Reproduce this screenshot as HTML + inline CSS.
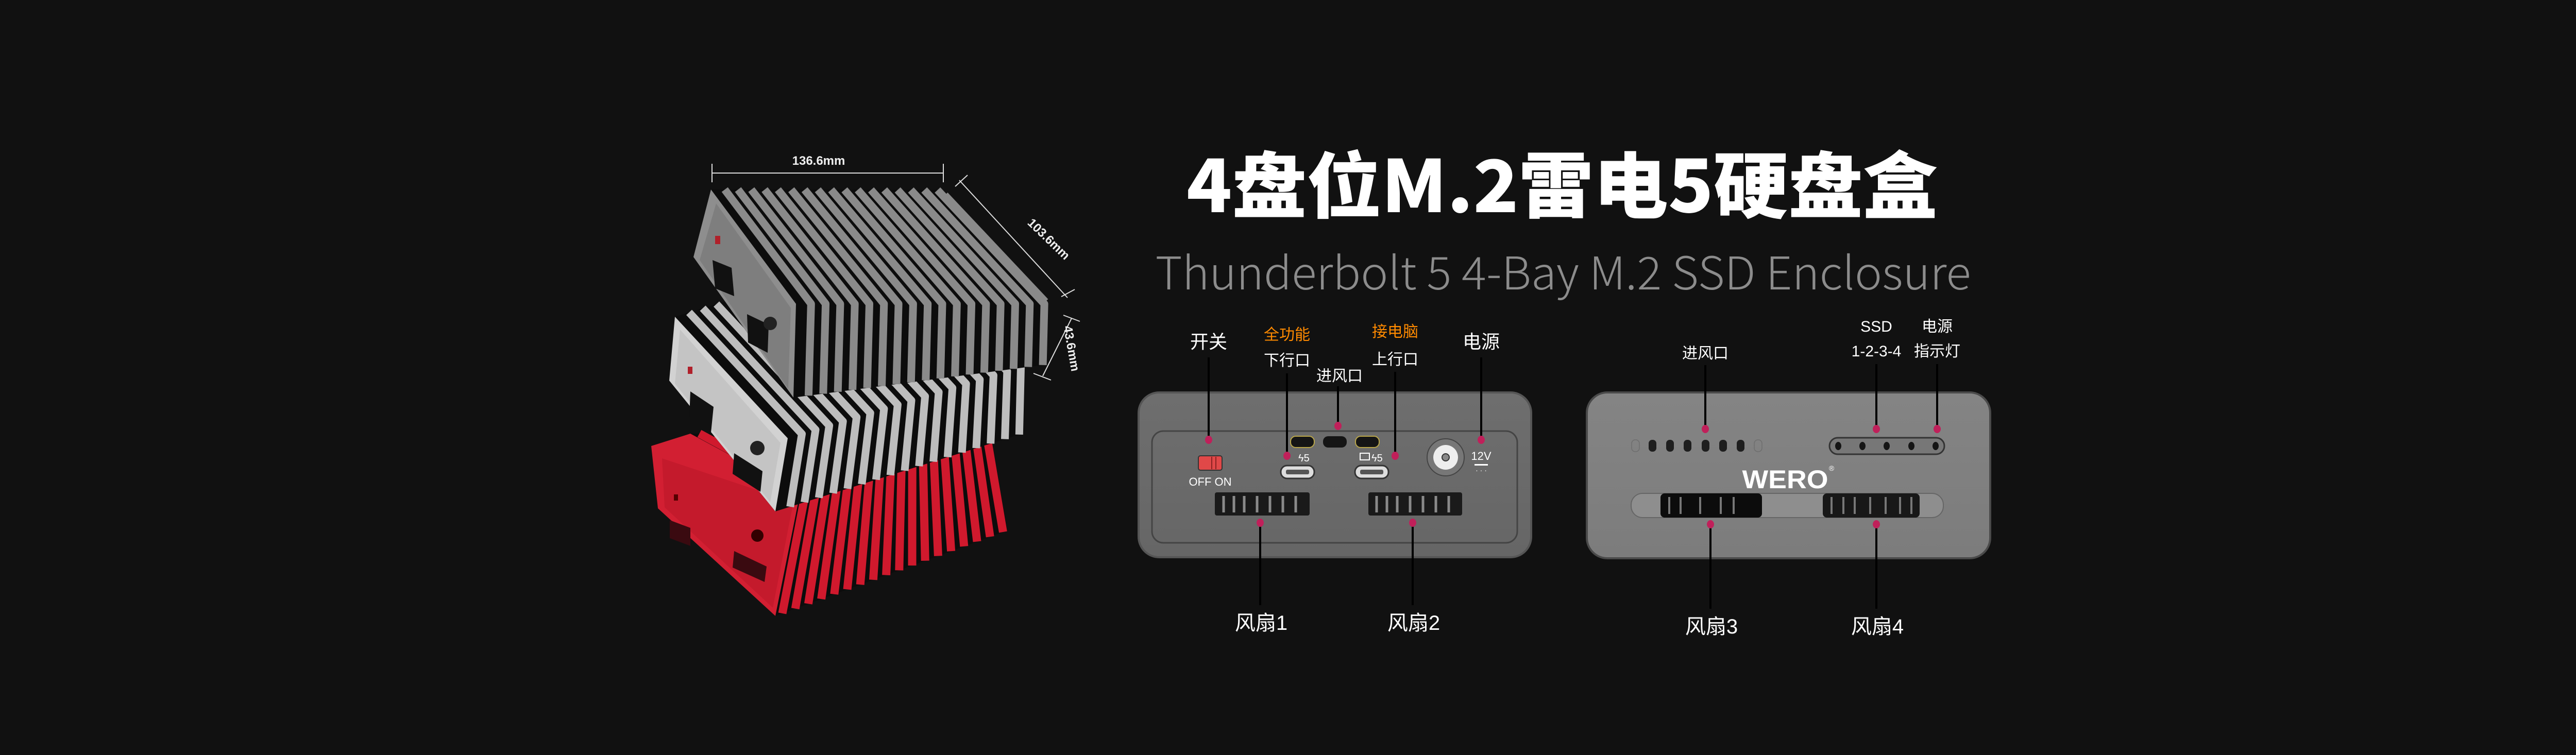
<!DOCTYPE html>
<html><head><meta charset="utf-8"><style>
html,body{margin:0;padding:0;background:#111111;}
svg{display:block;}
text{font-family:"Liberation Sans","Noto Sans CJK SC",sans-serif;}
.cj{font-family:"Noto Sans CJK SC","WenQuanYi Zen Hei",sans-serif;}
</style></head><body>
<svg id="s" width="5120" height="1466" viewBox="0 0 5120 1466" xmlns="http://www.w3.org/2000/svg">
<defs>
<linearGradient id="gL" x1="0" y1="0" x2="0" y2="1"><stop offset="0" stop-color="#6e6e6e"/><stop offset="1" stop-color="#666"/></linearGradient>
<linearGradient id="gR" x1="0" y1="0" x2="0" y2="1"><stop offset="0" stop-color="#848484"/><stop offset="1" stop-color="#7c7c7c"/></linearGradient>
</defs>
<rect width="5120" height="1466" fill="#111111"/>

<text x="3032" y="412" class="cj" font-size="140" font-weight="900" fill="#ffffff" text-anchor="middle" textLength="1458" lengthAdjust="spacingAndGlyphs">4盘位M.2雷电5硬盘盒</text>
<text x="3034" y="562" font-size="88" fill="#8c8c8c" text-anchor="middle" textLength="1583" lengthAdjust="spacingAndGlyphs" class="cj" font-weight="300">Thunderbolt 5 4-Bay M.2 SSD Enclosure</text>

<!-- red box -->
<polygon points="1264,866 1340,842 1922,839 1955,1030 1505,1196 1277,987" fill="#0c0c0c"/>
<polygon points="1264,866 1340,842 1553,957 1505,1196 1277,987" fill="#d21f32"/>
<polygon points="1285,890 1540,975 1500,1180 1290,985" fill="#c41a2c"/>
<g id="redfins" stroke="#d0192d" stroke-width="16"></g>
<polygon points="1300,1010 1340,1025 1340,1060 1300,1045" fill="#3a0a10"/>
<polygon points="1425,1070 1488,1100 1484,1130 1422,1102" fill="#3a0a10"/>
<circle cx="1470" cy="1040" r="12" fill="#300"/>
<rect x="1308" y="960" width="8" height="12" fill="#500"/>

<!-- middle box -->
<polygon points="1310,615 1768,475 1987,711 1984,842 1505,993 1299,739" fill="#0c0c0c"/>
<polygon points="1310,615 1529,851 1505,993 1299,739" fill="#d2d2d2"/>
<polygon points="1320,640 1515,860 1495,975 1310,745" fill="#c4c4c4"/>
<g id="midfins" stroke="#bdbdbd" stroke-width="15"></g>
<polygon points="1340,760 1385,790 1380,840 1338,810" fill="#111"/>
<polygon points="1425,880 1480,915 1476,955 1422,920" fill="#111"/>
<circle cx="1470" cy="870" r="14" fill="#222"/>
<rect x="1335" y="712" width="9" height="14" fill="#b0202a"/>

<!-- top box -->
<polygon points="1380,368 1825,369 2033,590 2030,708 1540,772 1346,499" fill="#0c0c0c"/>
<polygon points="1380,368 1545,590 1540,772 1346,499" fill="#8e8e8e"/>
<polygon points="1390,395 1535,598 1530,755 1358,505" fill="#7e7e7e"/>
<g id="topfins" stroke="#8a8a8a" stroke-width="15"></g>
<polygon points="1383,505 1420,520 1425,575 1388,560" fill="#111"/>
<polygon points="1450,610 1492,630 1490,685 1452,665" fill="#111"/>
<circle cx="1495" cy="628" r="13" fill="#222"/>
<rect x="1388" y="458" width="10" height="16" fill="#b0202a"/>
<line x1="1835" y1="378" x2="2030" y2="585" stroke="#8a8a8a" stroke-width="12"/>

<g stroke="#dddddd" stroke-width="2" fill="none">
<line x1="1382" y1="336" x2="1831" y2="336"/><line x1="1382" y1="318" x2="1382" y2="354"/><line x1="1831" y1="318" x2="1831" y2="354"/>
<line x1="1862" y1="350" x2="2072" y2="578"/><line x1="1854" y1="362" x2="1878" y2="340"/><line x1="2060" y1="576" x2="2086" y2="562"/>
<line x1="2080" y1="618" x2="2024" y2="730"/><line x1="2064" y1="612" x2="2096" y2="624"/><line x1="2006" y1="725" x2="2040" y2="738"/>
</g>
<text x="1589" y="320" font-size="24" font-weight="bold" fill="#eeeeee" text-anchor="middle">136.6mm</text>
<text x="0" y="0" font-size="24" font-weight="bold" fill="#eeeeee" text-anchor="middle" transform="translate(2030,470) rotate(44)">103.6mm</text>
<text x="0" y="0" font-size="24" font-weight="bold" fill="#eeeeee" text-anchor="middle" transform="translate(2072,678) rotate(80)">43.6mm</text>

<!-- Left panel -->
<rect x="2210" y="762" width="762" height="320" rx="40" fill="url(#gL)" stroke="#555" stroke-width="4"/>
<rect x="2236" y="837" width="709" height="217" rx="22" fill="none" stroke="#444" stroke-width="3"/>
<rect x="2326" y="885" width="46" height="28" rx="4" fill="#e04848" stroke="#333" stroke-width="2"/>
<line x1="2352" y1="887" x2="2352" y2="911" stroke="#822" stroke-width="2"/><line x1="2360" y1="887" x2="2360" y2="911" stroke="#822" stroke-width="2"/>
<text x="2349" y="943" font-size="22" fill="#ffffff" text-anchor="middle">OFF  ON</text>
<rect x="2505" y="847" width="46" height="22" rx="10" fill="#151515" stroke="#b9a64a" stroke-width="2"/>
<rect x="2568" y="847" width="46" height="22" rx="10" fill="#151515"/>
<rect x="2631" y="847" width="46" height="22" rx="10" fill="#151515" stroke="#b9a64a" stroke-width="2"/>
<rect x="2486" y="904" width="65" height="25" rx="12" fill="#ddd" stroke="#333" stroke-width="3"/>
<rect x="2496" y="912" width="45" height="9" rx="3" fill="#555"/>
<rect x="2630" y="904" width="65" height="25" rx="12" fill="#ddd" stroke="#333" stroke-width="3"/>
<rect x="2640" y="912" width="45" height="9" rx="3" fill="#555"/>
<text x="2520" y="896" font-size="20" fill="#fff">ϟ5</text>
<rect x="2640" y="880" width="18" height="13" fill="none" stroke="#fff" stroke-width="2"/>
<text x="2662" y="896" font-size="20" fill="#fff">ϟ5</text>
<circle cx="2806" cy="888" r="36" fill="#777" stroke="#444" stroke-width="2"/>
<circle cx="2806" cy="888" r="24" fill="#eee"/>
<circle cx="2806" cy="888" r="7" fill="#888" stroke="#333" stroke-width="2"/>
<text x="2875" y="893" font-size="22" fill="#fff" text-anchor="middle">12V</text>
<rect x="2862" y="901" width="26" height="3" fill="#fff"/>
<text x="2875" y="918" font-size="14" fill="#fff" text-anchor="middle">· · ·</text>
<rect x="2358" y="956" width="184" height="45" rx="4" fill="#1a1a1a"/>
<rect x="2656" y="956" width="182" height="45" rx="4" fill="#1a1a1a"/>
<g stroke="#8a8a8a" stroke-width="5">
<line x1="2375" y1="963" x2="2375" y2="995"/><line x1="2395" y1="963" x2="2395" y2="995"/><line x1="2415" y1="963" x2="2415" y2="995"/><line x1="2440" y1="963" x2="2440" y2="995"/><line x1="2465" y1="963" x2="2465" y2="995"/><line x1="2490" y1="963" x2="2490" y2="995"/><line x1="2515" y1="963" x2="2515" y2="995"/>
<line x1="2672" y1="963" x2="2672" y2="995"/><line x1="2692" y1="963" x2="2692" y2="995"/><line x1="2712" y1="963" x2="2712" y2="995"/><line x1="2737" y1="963" x2="2737" y2="995"/><line x1="2762" y1="963" x2="2762" y2="995"/><line x1="2787" y1="963" x2="2787" y2="995"/><line x1="2812" y1="963" x2="2812" y2="995"/>
</g>

<!-- Right panel -->
<rect x="3080" y="762" width="783" height="322" rx="40" fill="url(#gR)" stroke="#4a4a4a" stroke-width="4"/>
<g fill="#1e1e1e">
<rect x="3200" y="854" width="15" height="23" rx="7"/><rect x="3234" y="854" width="15" height="23" rx="7"/><rect x="3268" y="854" width="15" height="23" rx="7"/><rect x="3303" y="854" width="15" height="23" rx="7"/><rect x="3337" y="854" width="15" height="23" rx="7"/><rect x="3371" y="854" width="15" height="23" rx="7"/>
</g>
<rect x="3167" y="854" width="15" height="23" rx="7" fill="none" stroke="#6e6e6e" stroke-width="1.5"/>
<rect x="3405" y="854" width="15" height="23" rx="7" fill="none" stroke="#6e6e6e" stroke-width="1.5"/>
<rect x="3551" y="850" width="223" height="32" rx="16" fill="#777" stroke="#333" stroke-width="3"/>
<g fill="#151515"><ellipse cx="3568" cy="866" rx="6" ry="8"/><ellipse cx="3615" cy="866" rx="6" ry="8"/><ellipse cx="3662" cy="866" rx="6" ry="8"/><ellipse cx="3710" cy="866" rx="6" ry="8"/><ellipse cx="3757" cy="866" rx="6" ry="8"/></g>
<text x="3465" y="948" font-size="50" font-weight="bold" fill="#ffffff" text-anchor="middle" textLength="167" lengthAdjust="spacingAndGlyphs">WERO</text>
<text x="3555" y="914" font-size="14" fill="#fff" text-anchor="middle">®</text>
<rect x="3166" y="958" width="606" height="47" rx="22" fill="#8e8e8e" stroke="#666" stroke-width="2"/>
<rect x="3223" y="958" width="197" height="47" rx="8" fill="#0c0c0c"/>
<rect x="3538" y="958" width="188" height="47" rx="8" fill="#181818"/>
<g stroke="#777" stroke-width="4">
<line x1="3240" y1="965" x2="3240" y2="998"/><line x1="3262" y1="965" x2="3262" y2="998"/><line x1="3300" y1="965" x2="3300" y2="998"/><line x1="3340" y1="965" x2="3340" y2="998"/><line x1="3365" y1="965" x2="3365" y2="998"/>
<line x1="3555" y1="965" x2="3555" y2="998"/><line x1="3578" y1="965" x2="3578" y2="998"/><line x1="3600" y1="965" x2="3600" y2="998"/><line x1="3630" y1="965" x2="3630" y2="998"/><line x1="3660" y1="965" x2="3660" y2="998"/><line x1="3688" y1="965" x2="3688" y2="998"/><line x1="3710" y1="965" x2="3710" y2="998"/>
</g>

<g stroke="#000" stroke-width="4">
<line x1="2346" y1="694" x2="2346" y2="850"/>
<line x1="2498" y1="725" x2="2498" y2="882"/>
<line x1="2597" y1="750" x2="2597" y2="824"/>
<line x1="2708" y1="722" x2="2708" y2="882"/>
<line x1="2875" y1="694" x2="2875" y2="850"/>
<line x1="2446" y1="1018" x2="2446" y2="1175"/>
<line x1="2742" y1="1018" x2="2742" y2="1175"/>
<line x1="3310" y1="709" x2="3310" y2="830"/>
<line x1="3642" y1="707" x2="3642" y2="830"/>
<line x1="3760" y1="707" x2="3760" y2="830"/>
<line x1="3320" y1="1020" x2="3320" y2="1182"/>
<line x1="3642" y1="1020" x2="3642" y2="1182"/>
</g>
<g fill="#c0205a">
<ellipse cx="2346" cy="854" rx="7" ry="8"/>
<ellipse cx="2498" cy="885" rx="7" ry="8"/>
<ellipse cx="2597" cy="827" rx="7" ry="8"/>
<ellipse cx="2708" cy="885" rx="7" ry="8"/>
<ellipse cx="2875" cy="854" rx="7" ry="8"/>
<ellipse cx="2446" cy="1015" rx="7" ry="8"/>
<ellipse cx="2742" cy="1015" rx="7" ry="8"/>
<ellipse cx="3310" cy="833" rx="7" ry="8"/>
<ellipse cx="3642" cy="833" rx="7" ry="8"/>
<ellipse cx="3760" cy="833" rx="7" ry="8"/>
<ellipse cx="3320" cy="1018" rx="7" ry="8"/>
<ellipse cx="3642" cy="1018" rx="7" ry="8"/>
</g>

<g class="cj" fill="#ffffff" text-anchor="middle">
<text x="2346" y="676" font-size="36">开关</text>
<text x="2498" y="660" font-size="30" fill="#ff8a00">全功能</text>
<text x="2498" y="710" font-size="30">下行口</text>
<text x="2600" y="740" font-size="30">进风口</text>
<text x="2708" y="654" font-size="30" fill="#ff8a00">接电脑</text>
<text x="2708" y="708" font-size="30">上行口</text>
<text x="2875" y="676" font-size="36">电源</text>
<text x="2448" y="1223" font-size="40">风扇1</text>
<text x="2744" y="1223" font-size="40">风扇2</text>
<text x="3310" y="696" font-size="30">进风口</text>
<text x="3642" y="644" font-size="30">SSD</text>
<text x="3642" y="692" font-size="30">1-2-3-4</text>
<text x="3760" y="644" font-size="30">电源</text>
<text x="3760" y="692" font-size="30">指示灯</text>
<text x="3322" y="1230" font-size="40">风扇3</text>
<text x="3644" y="1230" font-size="40">风扇4</text>
</g>
</svg>
<script>
(function(){
var NS="http://www.w3.org/2000/svg";
function fin(g,pts){var p=document.createElementNS(NS,"polyline");p.setAttribute("points",pts.map(function(a){return a[0].toFixed(1)+","+a[1].toFixed(1)}).join(" "));p.setAttribute("fill","none");p.setAttribute("stroke-linejoin","round");g.appendChild(p);}
function lerp(a,b,t){return [a[0]+(b[0]-a[0])*t,a[1]+(b[1]-a[1])*t];}
var g=document.getElementById("topfins");
for(var i=0;i<17;i++){var t=0.06+i*0.058;if(t>0.99)break;
 fin(g,[lerp([1380,368],[1825,369],t),lerp([1545,590],[2033,590],t),lerp([1540,772],[2030,708],t)]);}
g=document.getElementById("midfins");
for(var i=0;i<17;i++){var t=0.06+i*0.058;if(t>0.99)break;
 fin(g,[lerp([1310,615],[1768,475],t),lerp([1529,851],[1987,711],t),lerp([1505,993],[1984,842],t)]);}
g=document.getElementById("redfins");
for(var i=0;i<18;i++){var t=0.03+i*0.056;if(t>0.99)break;
 fin(g,[lerp([1340,842],[1922,839],t),lerp([1553,957],[1922,845],t),lerp([1505,1196],[1955,1030],t)]);}
})();
</script>
</body></html>
